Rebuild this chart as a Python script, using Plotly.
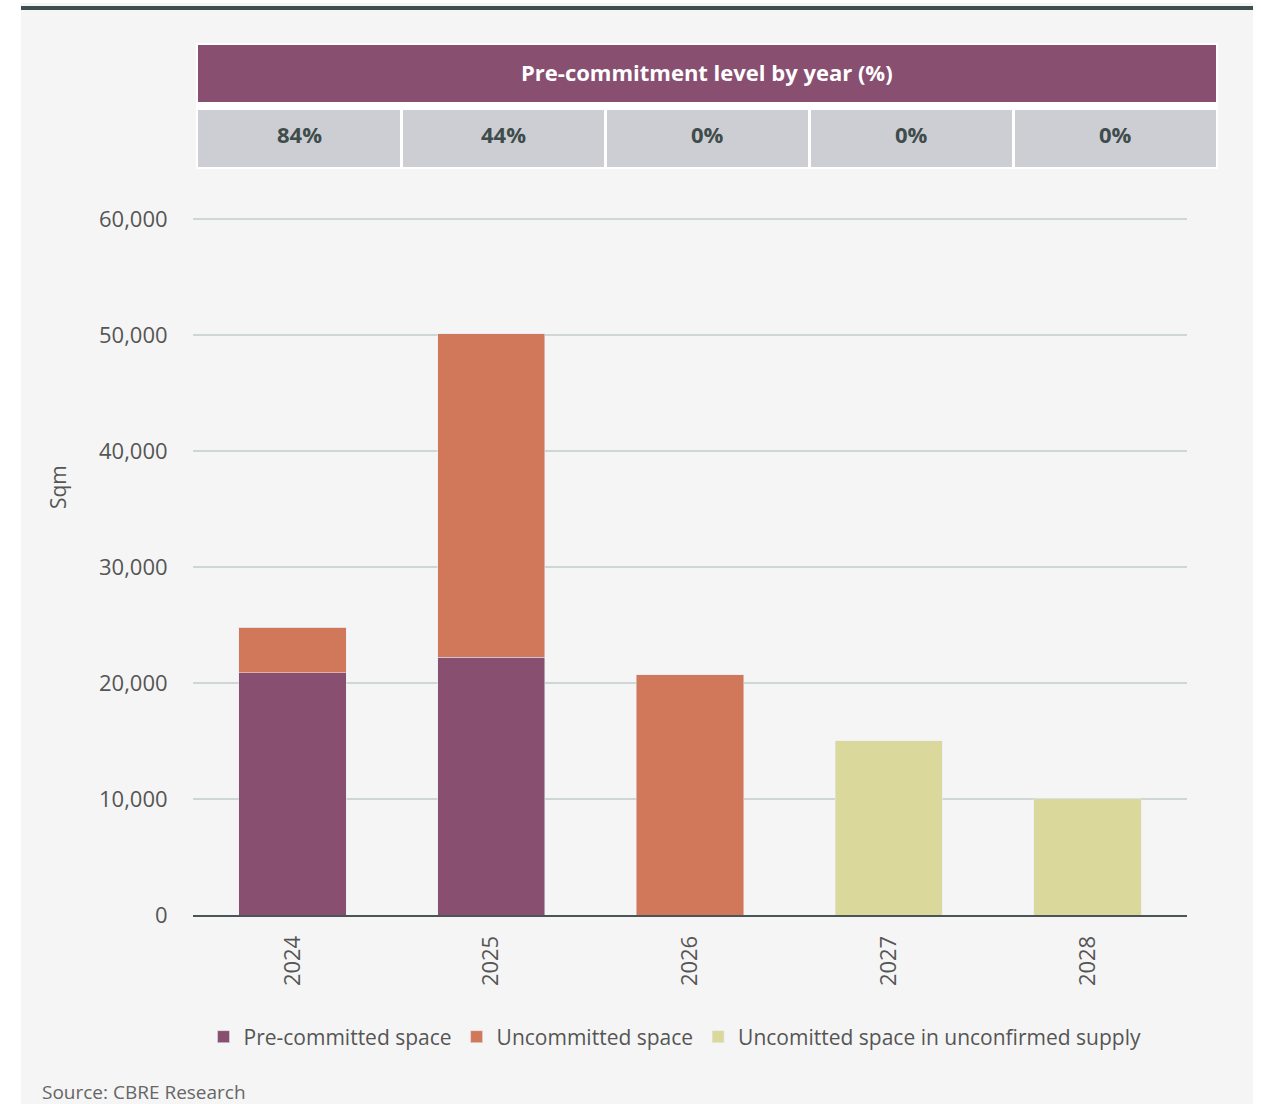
import plotly.graph_objects as go

years = ["2024", "2025", "2026", "2027", "2028"]
pre_committed = [20900, 22200, 0, 0, 0]
uncommitted = [3900, 27900, 20700, 0, 0]
unconfirmed = [0, 0, 0, 15000, 10000]
precommit_pct = ["84%", "44%", "0%", "0%", "0%"]

PURPLE = "#884f70"
ORANGE = "#d2785a"
YELLOW = "#dbd89b"
CELL = "#cdced3"
TXT = "#555555"
FONT = "Open Sans"

W, H = 1261, 1104
L, R, T, B = 193, 74, 215, 189
PW, PH = W - L - R, H - T - B


def px(x):
    return (x - L) / PW


def py(y):
    return (H - B - y) / PH


fig = go.Figure()
fig.add_bar(x=years, y=pre_committed, name="Pre-committed space", marker_color=PURPLE)
fig.add_bar(x=years, y=uncommitted, name="Uncommitted space", marker_color=ORANGE)
fig.add_bar(x=years, y=unconfirmed, name="Uncomitted space in unconfirmed supply", marker_color=YELLOW)

shapes = [
    dict(type="rect", xref="paper", yref="paper", x0=px(21), x1=px(1253), y0=py(1104), y1=py(3),
         fillcolor="#f5f5f5", line_width=0, layer="below"),
    dict(type="rect", xref="paper", yref="paper", x0=px(21), x1=px(1253), y0=py(10), y1=py(6),
         fillcolor="#3f4f4f", line_width=0, layer="below"),
    dict(type="rect", xref="paper", yref="paper", x0=px(196), x1=px(1218), y0=py(169), y1=py(43),
         fillcolor="white", line_width=0, layer="below"),
    dict(type="rect", xref="paper", yref="paper", x0=px(198), x1=px(1216), y0=py(102), y1=py(45),
         fillcolor=PURPLE, line_width=0, layer="below"),
]
annotations = [
    dict(text="<b>Pre-commitment level by year (%)</b>", xref="paper", yref="paper",
         x=px(707), y=py(72), showarrow=False, font=dict(size=22, color="white", family=FONT),
         xanchor="center", yanchor="middle"),
]
edges = [198, 402, 606, 810, 1014, 1216]
for i, pct in enumerate(precommit_pct):
    x0 = edges[i] + (0 if i == 0 else 1)
    x1 = edges[i + 1] - (0 if i == 4 else 2)
    shapes.append(dict(type="rect", xref="paper", yref="paper", x0=px(x0), x1=px(x1),
                       y0=py(167), y1=py(110), fillcolor=CELL, line_width=0, layer="below"))
    annotations.append(dict(text="<b>" + pct + "</b>", xref="paper", yref="paper",
                            x=px((x0 + x1) / 2), y=py(134), showarrow=False,
                            font=dict(size=22, color="#3f4c4c", family=FONT),
                            xanchor="center", yanchor="middle"))

annotations.append(dict(text="Sqm", xref="paper", yref="paper", x=px(58), y=py(487),
                        textangle=-90, showarrow=False, font=dict(size=21, color=TXT, family=FONT),
                        xanchor="center", yanchor="middle"))
annotations.append(dict(text="Source: CBRE Research", xref="paper", yref="paper", x=px(40), y=py(1092),
                        showarrow=False, font=dict(size=19, color="#666666", family=FONT),
                        xanchor="left", yanchor="middle"))

fig.update_layout(
    width=W, height=H,
    margin=dict(l=L, r=R, t=T, b=B),
    paper_bgcolor="white", plot_bgcolor="rgba(0,0,0,0)",
    barmode="stack", bargap=0.46,
    font=dict(family=FONT, color=TXT, size=20),
    shapes=shapes, annotations=annotations,
    showlegend=True,
    legend=dict(orientation="h", x=px(675), xanchor="center",
                y=py(1037), yanchor="middle",
                font=dict(size=21, color=TXT, family=FONT), bgcolor="rgba(0,0,0,0)",
                traceorder="normal", itemwidth=30),
    xaxis=dict(tickangle=-90, showgrid=False, showline=True, linecolor="#4a5656", linewidth=2,
               ticks="outside", ticklen=10, tickcolor="rgba(0,0,0,0)",
               tickfont=dict(size=22, color=TXT)),
    yaxis=dict(range=[0, 60340], tickvals=[0, 10000, 20000, 30000, 40000, 50000, 60000],
               tickformat=",", showgrid=True,
               gridcolor="#cfd6d6", gridwidth=2, zeroline=False, showline=False,
               ticks="outside", ticklen=20, tickcolor="rgba(0,0,0,0)",
               tickfont=dict(size=22, color=TXT)),
)

fig.write_html("out.html")
